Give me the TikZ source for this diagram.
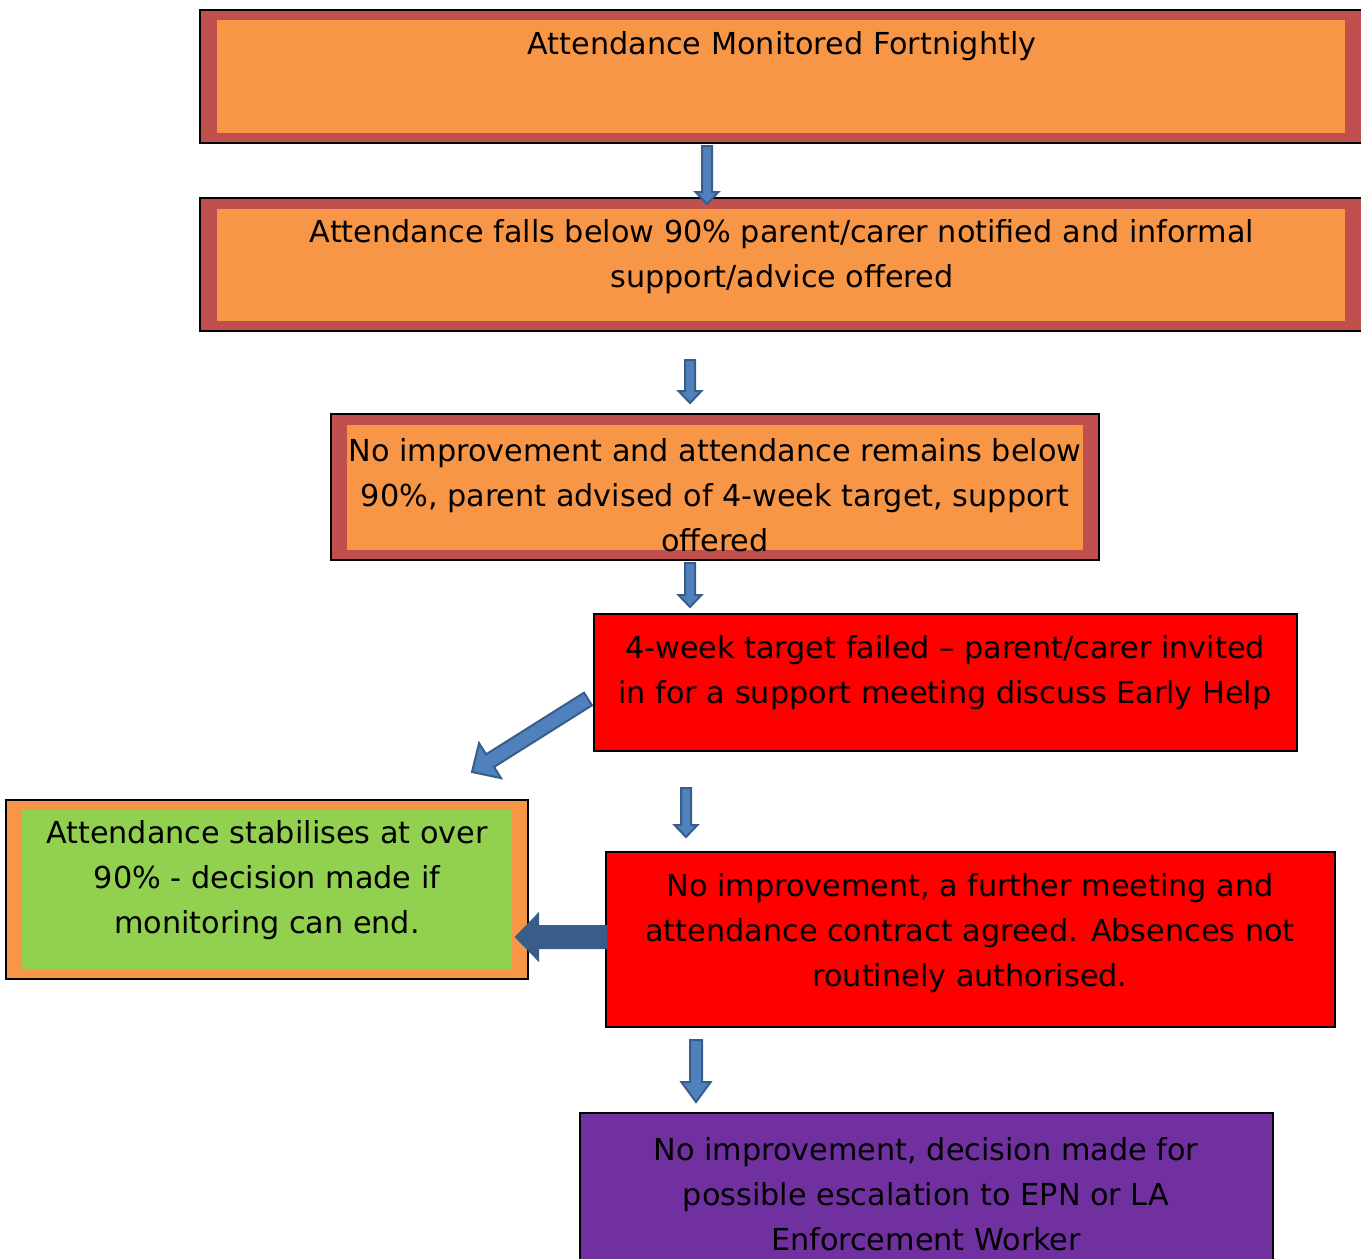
\documentclass[tikz,border=0pt]{standalone}
\usepackage{fontspec}
\setmainfont{DejaVu Sans}
\usetikzlibrary{calc,fit}
\definecolor{boxorange}{HTML}{F79646}
\definecolor{boxrim}{HTML}{C0504D}
\definecolor{boxred}{HTML}{FF0000}
\definecolor{boxgreen}{HTML}{92D050}
\definecolor{boxpurple}{HTML}{7030A0}
\definecolor{arrfill}{HTML}{4F81BD}
\definecolor{arrline}{HTML}{385D8A}
\newcommand\blockarr[5]{%
  \filldraw[arrowshape]
    ($(#1)!#3!90:(#2)$) --
    ($($(#2)!#5!(#1)$)!#3!-90:(#1)$) --
    ($($(#2)!#5!(#1)$)!#4!-90:(#1)$) --
    (#2) --
    ($($(#2)!#5!(#1)$)!#4!90:(#1)$) --
    ($($(#2)!#5!(#1)$)!#3!90:(#1)$) --
    ($(#1)!#3!-90:(#2)$) -- cycle;}
\begin{document}
\begin{tikzpicture}[x=0.75pt,y=-0.75pt,
  framebox/.style={draw=black,line width=1pt,inner sep=0pt},
  txt/.style={align=center,font=\fontsize{22.7pt}{33.75pt}\selectfont,text=black,inner sep=0pt},
  arrowshape/.style={fill=arrfill,draw=arrline,line width=1.5pt,line join=miter}]
\useasboundingbox (0,0) rectangle (1361,1258);
% Box 1
\node[framebox,fill=boxrim,fit={(200,10)(1362,143)}] (b1) {};
\fill[boxorange] (217,20) rectangle (1345,133);
\node[txt] (t1) at (782,46) {Attendance Monitored Fortnightly};
% Box 2
\node[framebox,fill=boxrim,fit={(200,198)(1362,331)}] (b2) {};
\fill[boxorange] (217,209) rectangle (1345,321);
\node[txt] (t2) at (782,257) {Attendance falls below 90\% parent/carer notified and informal\\support/advice offered};
% Box 3
\node[framebox,fill=boxrim,fit={(331,414)(1099,560)}] (b3) {};
\fill[boxorange] (347,425) rectangle (1083,550);
\node[txt] (t3) at (715,495) {No improvement and attendance remains below\\90\%, parent advised of 4-week target, support\\offered};
% Box 4
\node[framebox,fill=boxred,fit={(594,614)(1297,751)}] (b4) {};
\node[txt] (t4) at (945,673) {4-week target failed -- parent/carer invited\\in for a support meeting discuss Early Help};
% Box 5
\node[framebox,fill=boxorange,fit={(6,800)(528,979)}] (b5) {};
\fill[boxgreen] (22,810) rectangle (512,969);
\node[txt] (t5) at (267,880) {Attendance stabilises at over\\90\% - decision made if\\monitoring can end.};
% Box 6
\node[framebox,fill=boxred,fit={(606,852)(1335,1027)}] (b6) {};
\node[txt] (t6) at (970,933) {No improvement, a further meeting and\\attendance contract agreed. Absences not\\routinely authorised.};
% Box 7
\node[framebox,fill=boxpurple,fit={(580,1113)(1273,1280)}] (b7) {};
\node[txt] (t7) at (926,1194) {No improvement, decision made for\\possible escalation to EPN or LA\\Enforcement Worker};
% Arrow end points
\coordinate (a1s) at (707,146); \coordinate (a1e) at (707,204);
\coordinate (a2s) at (690,360); \coordinate (a2e) at (690,403);
\coordinate (a3s) at (690,563); \coordinate (a3e) at (690,607);
\coordinate (a4s) at (686,788); \coordinate (a4e) at (686,837);
\coordinate (a5s) at (696,1040); \coordinate (a5e) at (696,1102);
\coordinate (a6s) at (588,699); \coordinate (a6e) at (472,772);
\coordinate (a7s) at (606,937); \coordinate (a7e) at (516,937);
\blockarr{a1s}{a1e}{3.75pt}{8.6pt}{9pt}
\blockarr{a2s}{a2e}{3.75pt}{8.6pt}{9pt}
\blockarr{a3s}{a3e}{3.75pt}{8.6pt}{9pt}
\blockarr{a4s}{a4e}{3.75pt}{8.6pt}{9pt}
\blockarr{a5s}{a5e}{4.5pt}{11pt}{15pt}
\blockarr{a6s}{a6e}{5.6pt}{15.5pt}{16pt}
\begin{scope}[arrowshape/.append style={fill=arrline}]
\blockarr{a7s}{a7e}{8.25pt}{17pt}{16.5pt}
\end{scope}
\end{tikzpicture}
\end{document}
